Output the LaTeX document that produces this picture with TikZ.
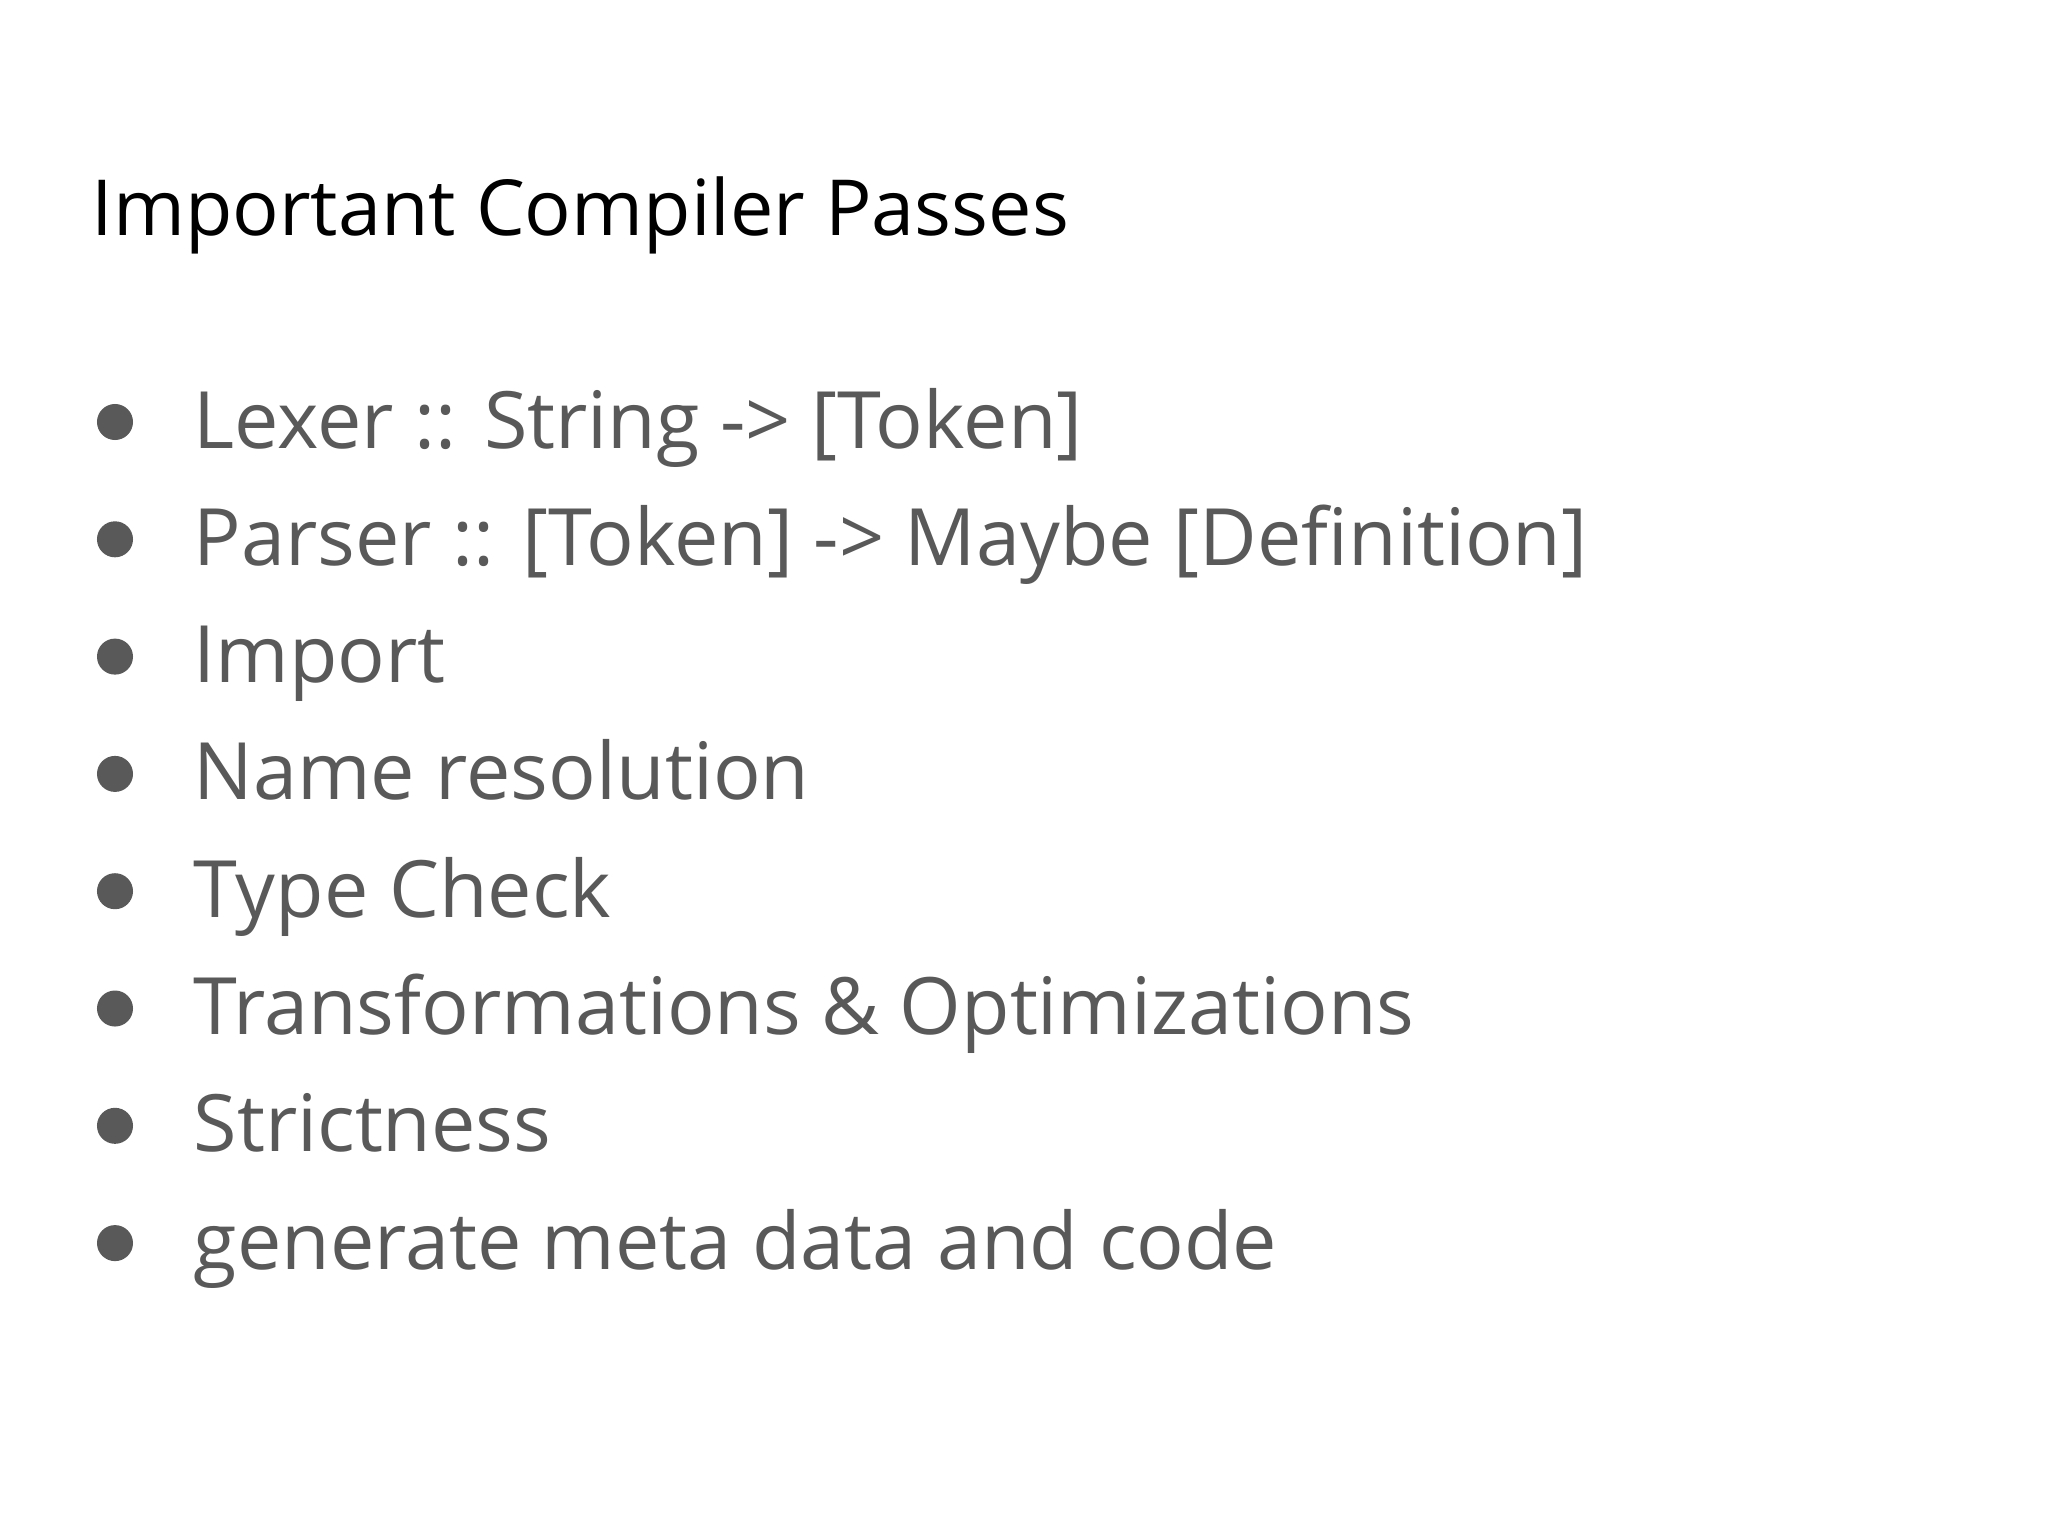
\documentclass[tikz,border=0pt]{standalone}
\usepackage{fontspec}
\setmainfont{Open Sans}
\definecolor{txtgray}{HTML}{595959}
\begin{document}
\begin{tikzpicture}[x=0.01cm,y=-0.01cm,
  titlestyle/.style={anchor=base west,inner sep=0pt,font=\fontsize{22}{26}\selectfont,text=black},
  itemstyle/.style={anchor=base west,inner sep=0pt,font=\fontsize{22.5}{27}\selectfont,text=txtgray},
  dotstyle/.style={circle,fill=txtgray,inner sep=0pt,minimum size=0.36cm}]
\useasboundingbox[fill=white] (0,0) rectangle (2048,1536);
\node[titlestyle] (title) at (91,235) {Important Compiler Passes};
\foreach \t [count=\i] in {Lexer :: String -> [Token],Parser :: [Token] -> Maybe [Definition],Import,Name resolution,Type Check,Transformations \& Optimizations,Strictness,generate meta data and code}{
  \pgfmathsetmacro\yy{448+(\i-1)*117.3}
  \node[itemstyle] (item\i) at (193,\yy) {\t};
  \node[dotstyle] (dot\i) at (115,\yy-26) {};
}
\end{tikzpicture}
\end{document}
